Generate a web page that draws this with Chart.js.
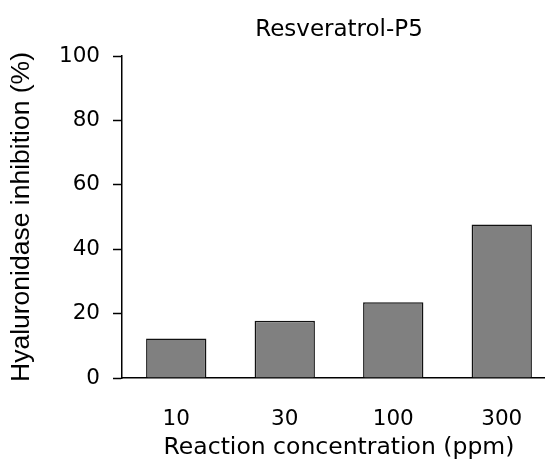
<!DOCTYPE html>
<html>
<head>
<meta charset="utf-8">
<script src="https://cdn.jsdelivr.net/npm/chart.js@4/dist/chart.umd.min.js"></script>
<style>
  html, body { margin: 0; padding: 0; background: #fff; overflow: hidden; }
  #wrap { width: 545px; height: 459px; overflow: hidden; }
</style>
</head>
<body>
<div id="wrap"><canvas id="chart" width="556" height="459"></canvas></div>
<script>
const concentrations = ['10', '30', '100', '300'];
const inhibition = [12.3, 17.8, 23.5, 47.7];
const yTicks = [0, 20, 40, 60, 80, 100];

new Chart(document.getElementById('chart'), {
  type: 'bar',
  data: {
    labels: concentrations,
    datasets: [{
      data: inhibition,
      backgroundColor: '#808080',
      borderColor: '#111',
      borderWidth: 1.5,
      barPercentage: 0.556,
      categoryPercentage: 1
    }]
  },
  options: {
    responsive: false,
    animation: false,
    layout: { padding: 0 },
    plugins: { legend: { display: false }, tooltip: { enabled: false } },
    scales: {
      x: {
        grid: { display: false, drawTicks: false },
        border: { display: true, color: '#000', width: 1.5 },
        ticks: { color: '#000', font: { family: 'DejaVu Sans', size: 21.5 }, padding: 29 },
        title: {
          display: true, text: 'Reaction concentration (ppm)',
          color: '#000', font: { family: 'DejaVu Sans', size: 23.5 }, padding: { top: 0, bottom: -3 }
        },
        afterFit: s => { s.height = 81; }
      },
      x2: {
        position: 'top',
        grid: { display: false, drawTicks: false },
        border: { display: false },
        ticks: { display: false },
        title: {
          display: true, text: 'Resveratrol-P5',
          color: '#000', font: { family: 'DejaVu Sans', size: 23 }, padding: { top: 16, bottom: 16 }
        },
        afterFit: s => { s.height = 56; }
      },
      y: {
        min: 0, max: 100,
        afterBuildTicks: s => { s.ticks = yTicks.map(v => ({ value: v })); },
        grid: { drawOnChartArea: false, tickLength: 9, color: '#000', tickWidth: 1.5 },
        border: { display: true, color: '#000', width: 1.5 },
        ticks: { color: '#000', font: { family: 'DejaVu Sans', size: 21.5 }, padding: 13 },
        title: {
          display: true, text: 'Hyaluronidase inhibition (%)',
          color: '#000', font: { family: 'Liberation Sans', size: 26.5 }, padding: { top: 6, bottom: 0 }
        },
        afterFit: s => { s.width = 122; }
      }
    }
  }
});
</script>
</body>
</html>
